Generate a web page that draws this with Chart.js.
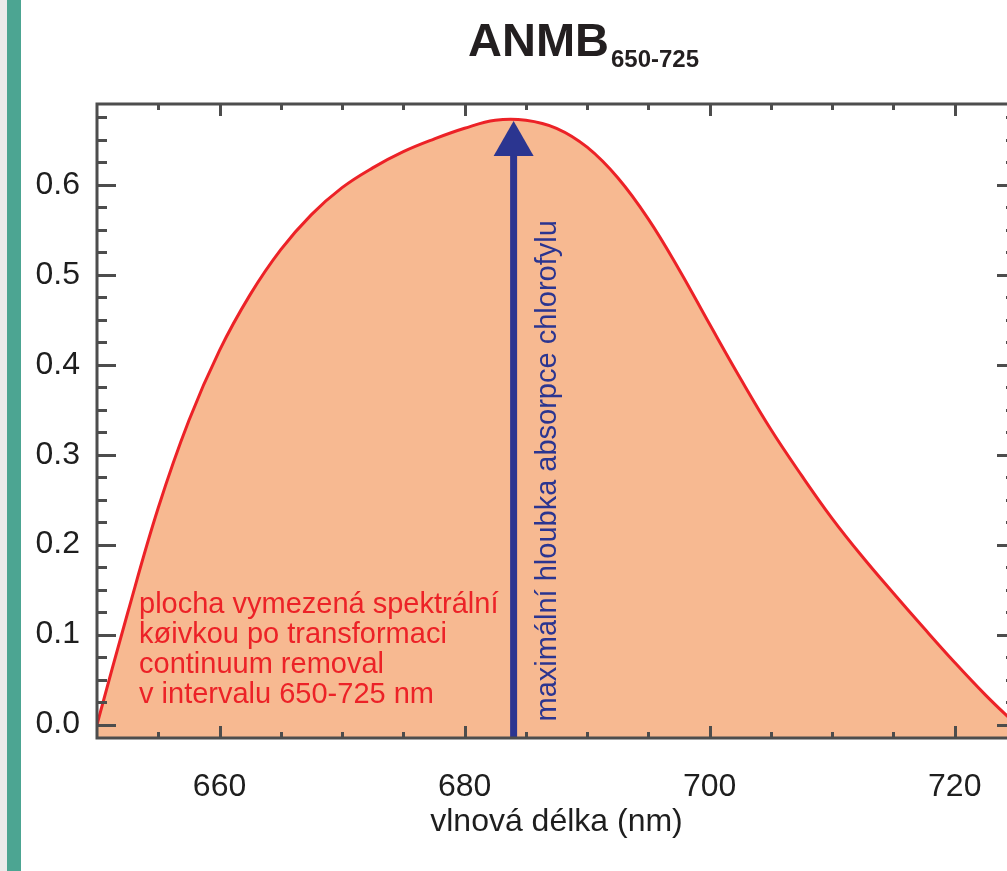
<!DOCTYPE html>
<html>
<head>
<meta charset="utf-8">
<title>ANMB 650-725</title>
<script src="https://cdn.jsdelivr.net/npm/chart.js@4.4.0/dist/chart.umd.min.js"></script>
<style>
  html, body { margin: 0; padding: 0; background: #fff; overflow: hidden; }
  #strip { position: absolute; left: 0; top: 0; width: 7px; height: 871px; background: #ebebeb; }
  #bar { position: absolute; left: 7px; top: 0; width: 14px; height: 871px; background: #4ca592; }
  #wrap { position: absolute; left: 0; top: 0; width: 1030px; height: 871px; }
</style>
</head>
<body>
<div id="strip"></div>
<div id="bar"></div>
<div id="wrap"><canvas id="chart"></canvas></div>
<script>
// spektralni krivka po continuum removal (odecteno z obrazku po 2.5 nm)
var wavelengths = [650, 652.5, 655, 657.5, 660, 662.5, 665, 667.5, 670, 672.5, 675, 677.5,
                   680, 682.5, 685, 687.5, 690, 692.5, 695, 697.5, 700, 702.5, 705, 707.5,
                   710, 712.5, 715, 717.5, 720, 722.5, 725];
var depth = [0, 0.124, 0.241, 0.338, 0.416, 0.478, 0.528, 0.567, 0.597, 0.619, 0.637, 0.651,
             0.663, 0.672, 0.672, 0.663, 0.642, 0.608, 0.562, 0.506, 0.445, 0.385, 0.328, 0.277,
             0.229, 0.186, 0.146, 0.107, 0.069, 0.033, 0];

var xTickValues = [660, 680, 700, 720];
var yTickValues = [0, 0.1, 0.2, 0.3, 0.4, 0.5, 0.6];

var peakWavelength = 684;
var peakDepth = 0.671;

var chartTitle = 'ANMB';
var chartTitleSub = '650-725';
var xTitle = 'vlnová délka (nm)';
var areaText = ['plocha vymezená spektrální', 'køivkou po transformaci', 'continuum removal', 'v intervalu 650-725 nm'];
var peakText = 'maximální hloubka absorpce chlorofylu';

var axisFont = { family: "'Liberation Sans', Arial, sans-serif", size: 32 };
var axisColor = '#4d4d4d';
var red = '#ec2227';
var blue = '#2b3590';

// ramecek, dovnitr mirici ticky, sipka a popisky
var decorPlugin = {
  id: 'decor',
  afterDatasetsDraw: function(chart) {
    var ctx = chart.ctx;
    var a = chart.chartArea;
    var xs = chart.scales.x, ys = chart.scales.y;
    ctx.save();

    // sipka na maximum
    var ax = xs.getPixelForValue(peakWavelength);
    var tipY = ys.getPixelForValue(peakDepth);
    ctx.strokeStyle = blue;
    ctx.fillStyle = blue;
    ctx.lineWidth = 7;
    ctx.beginPath();
    ctx.moveTo(ax, a.bottom);
    ctx.lineTo(ax, tipY + 30);
    ctx.stroke();
    ctx.beginPath();
    ctx.moveTo(ax, tipY);
    ctx.lineTo(ax - 20, tipY + 35);
    ctx.lineTo(ax + 20, tipY + 35);
    ctx.closePath();
    ctx.fill();

    // svisly text u sipky
    ctx.save();
    ctx.translate(ax + 42, ys.getPixelForValue(0) - 3);
    ctx.rotate(-Math.PI / 2);
    ctx.font = "29px 'Liberation Sans', Arial, sans-serif";
    ctx.textAlign = 'left';
    ctx.textBaseline = 'alphabetic';
    ctx.fillText(peakText, 0, 0);
    ctx.restore();

    // cerveny popis plochy
    ctx.fillStyle = red;
    ctx.font = "29px 'Liberation Sans', Arial, sans-serif";
    ctx.textAlign = 'left';
    ctx.textBaseline = 'alphabetic';
    var y0 = ys.getPixelForValue(0);
    for (var i = 0; i < areaText.length; i++) {
      ctx.fillText(areaText[i], a.left + 42, y0 - 112 + i * 30);
    }

    // ticky
    ctx.strokeStyle = axisColor;
    ctx.lineWidth = 3;
    for (var v = 0; v <= 0.69; v += 0.025) {
      var py = Math.round(ys.getPixelForValue(v)) + 0.5;
      var major = Math.abs(v * 10 - Math.round(v * 10)) < 1e-6;
      var len = major ? 19 : 10;
      ctx.beginPath();
      ctx.moveTo(a.left, py); ctx.lineTo(a.left + len, py);
      ctx.moveTo(a.right, py); ctx.lineTo(a.right - len, py);
      ctx.stroke();
    }
    for (var w = 655; w < 725; w += 5) {
      var px = Math.round(xs.getPixelForValue(w)) + 0.5;
      var big = w % 20 === 0;
      ctx.beginPath();
      ctx.moveTo(px, a.bottom); ctx.lineTo(px, a.bottom - (big ? 12 : 6));
      ctx.moveTo(px, a.top); ctx.lineTo(px, a.top + (big ? 12 : 6));
      ctx.stroke();
    }

    // ramecek
    ctx.lineWidth = 3;
    ctx.strokeRect(a.left, a.top, a.right - a.left, a.bottom - a.top);
    ctx.restore();
  },
  afterDraw: function(chart) {
    var ctx = chart.ctx;
    ctx.save();
    ctx.fillStyle = '#231f20';
    ctx.textAlign = 'left';
    ctx.textBaseline = 'alphabetic';
    ctx.font = "bold 47px 'Liberation Sans', Arial, sans-serif";
    ctx.fillText(chartTitle, 468, 56);
    var tw = ctx.measureText(chartTitle).width;
    ctx.font = "bold 24px 'Liberation Sans', Arial, sans-serif";
    ctx.fillText(chartTitleSub, 468 + tw + 2, 67);
    ctx.restore();
  }
};

var ctx = document.getElementById('chart').getContext('2d');
var chart = new Chart(ctx, {
  type: 'line',
  data: {
    datasets: [{
      data: wavelengths.map(function(w, i) { return { x: w, y: depth[i] }; }),
      borderColor: red,
      borderWidth: 3,
      backgroundColor: '#f7b991',
      fill: 'start',
      pointRadius: 0,
      tension: 0.4
    }]
  },
  options: {
    responsive: true,
    maintainAspectRatio: false,
    animation: false,
    layout: { padding: { top: 104, right: 14, left: 0, bottom: 0 } },
    plugins: {
      legend: { display: false },
      tooltip: { enabled: false }
    },
    scales: {
      x: {
        type: 'linear',
        min: 650,
        max: 725,
        grid: { display: false, drawTicks: false },
        border: { display: false },
        afterBuildTicks: function(s) { s.ticks = xTickValues.map(function(v) { return { value: v }; }); },
        afterFit: function(s) { s.height = 133; },
        ticks: {
          padding: 30,
          color: '#1e1e1e',
          font: axisFont,
          maxRotation: 0,
          autoSkip: false,
          callback: function(v) { return String(v); }
        },
        title: {
          display: true,
          text: xTitle,
          color: '#1e1e1e',
          font: axisFont,
          padding: { top: 0, bottom: 30 }
        }
      },
      y: {
        min: -0.015,
        max: 0.69,
        grid: { display: false, drawTicks: false },
        border: { display: false },
        afterBuildTicks: function(s) { s.ticks = yTickValues.map(function(v) { return { value: v }; }); },
        afterFit: function(s) { s.width = 97; },
        ticks: {
          padding: 17,
          color: '#1e1e1e',
          font: axisFont,
          callback: function(v) { return v.toFixed(1); }
        }
      }
    }
  },
  plugins: [decorPlugin]
});
</script>
</body>
</html>
